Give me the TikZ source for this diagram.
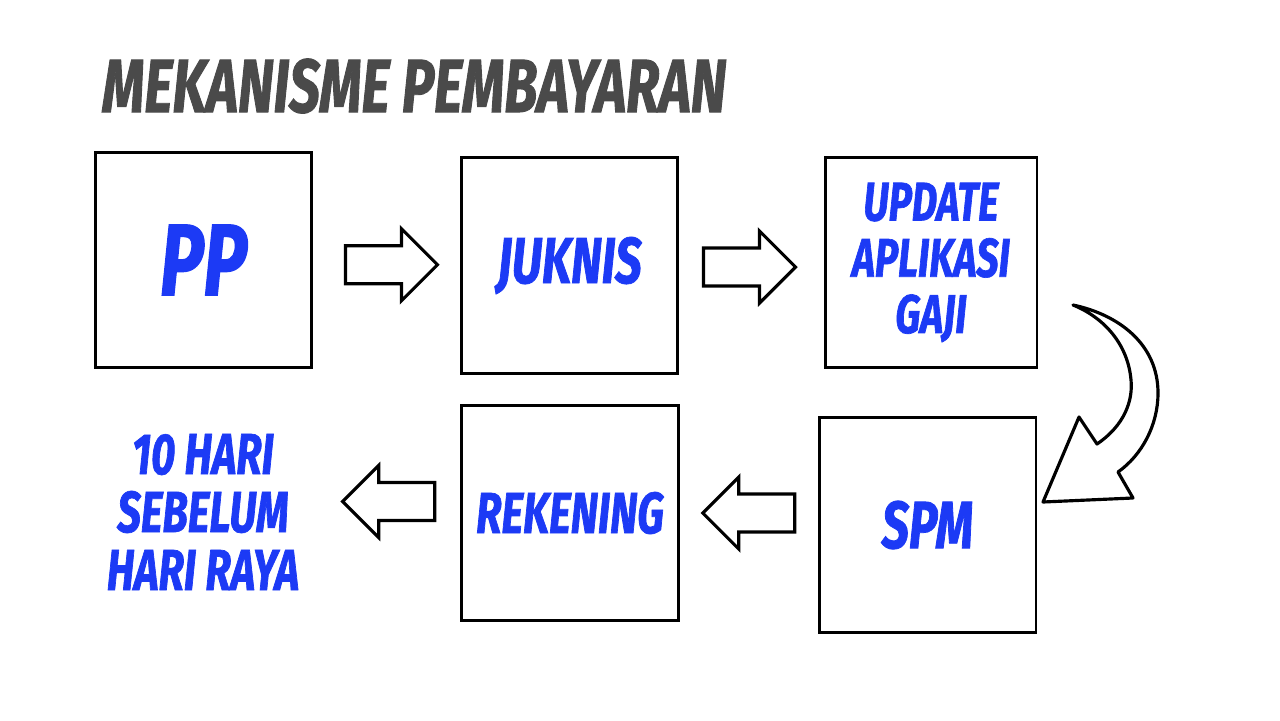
\documentclass[tikz,border=0pt]{standalone}
\usepackage{fontspec}
\usepackage{xcolor}
\usepackage{tikz}
\usetikzlibrary{calc}
\newfontfamily\comic{Fira Sans}[FakeStretch=0.72, BoldItalicFeatures={FakeBold=1.2}]
\definecolor{bluetext}{RGB}{28,58,245}
\definecolor{graytitle}{RGB}{74,74,74}

\tikzset{
  langkah/.style = {draw, line width = 1.7pt, minimum width = 4.34cm, minimum height = 4.32cm, align = center, text = bluetext, font = \comic\bfseries\itshape},
  panah/.style = {draw, line width = 1.8pt, fill = white, line join = miter}
}
% block arrow: centre, rotation
\newcommand{\blockarrow}[2]{%
\draw [panah, shift = {(#1)}, rotate = #2] (-46, -19) -- (10, -19) -- (10, -36) -- (46, 0) -- (10, 36) -- (10, 19) -- (-46, 19) -- cycle;}

\begin{document}
\begin{tikzpicture}[x = 0.02cm, y = -0.02cm]
\useasboundingbox (0, 0) rectangle (1280, 720);

\node [anchor = west, text = graytitle, font = \comic\bfseries\itshape\fontsize{43}{43}\selectfont] (judul) at (96, 86) {MEKANISME PEMBAYARAN};

\node [langkah, font = \comic\bfseries\itshape\fontsize{58}{58}\selectfont] (pp) at (203.5, 260) {PP};
\node [langkah, font = \comic\bfseries\itshape\fontsize{37}{37}\selectfont] (juknis) at (569.5, 265.5) {JUKNIS};
\node [langkah, minimum width = 4.24cm, minimum height = 4.22cm, font = \comic\bfseries\itshape\fontsize{31}{32}\selectfont] (update) at (931, 262.5) {UPDATE\\APLIKASI\\GAJI};
\node [langkah, font = \comic\bfseries\itshape\fontsize{33}{33}\selectfont] (rekening) at (570, 513) {REKENING};
\node [langkah, font = \comic\bfseries\itshape\fontsize{38}{38}\selectfont] (spm) at (927.5, 525) {SPM};
\node [align = center, text = bluetext, font = \comic\bfseries\itshape\fontsize{33}{33}\selectfont] (hari) at (203, 512) {10 HARI\\SEBELUM\\HARI RAYA};

\blockarrow{$(pp.east)!0.5!(juknis.west) + (5, 2)$}{0}
\blockarrow{$(juknis.east)!0.5!(update.west) + (-2, 3)$}{0}
\blockarrow{$(spm.west)!0.5!(rekening.east) + (0, -6)$}{180}
\blockarrow{$(rekening.west)!0.5!(hari.east) + (6, -11)$}{180}

% curved arrow from update to spm
\draw [panah, line join = round] (1073, 305) .. controls (1120, 315) and (1158, 345) .. (1158, 393)
  .. controls (1158, 425) and (1142, 455) .. (1118, 472) -- (1133, 498) -- (1043, 502) -- (1079, 417) -- (1097, 444)
  .. controls (1125, 425) and (1133, 400) .. (1131, 380) .. controls (1128, 345) and (1105, 318) .. cycle;
\end{tikzpicture}
\end{document}
